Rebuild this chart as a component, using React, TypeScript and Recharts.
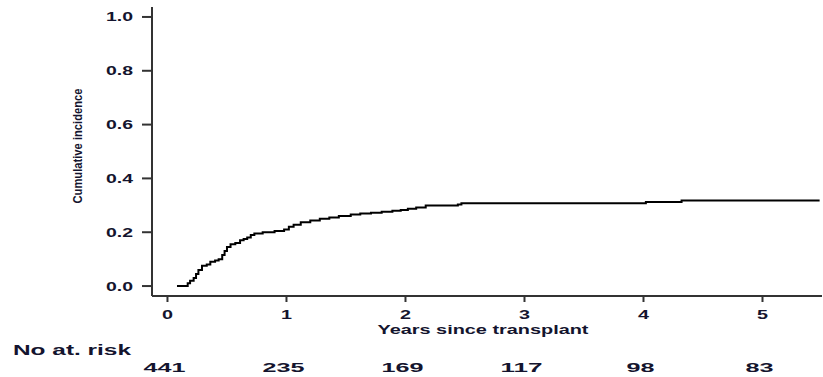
import { Line, LineChart, XAxis, YAxis } from "recharts";

// cumulative incidence step curve
const years = [
  0.08, 0.17, 0.19, 0.22, 0.24, 0.26, 0.29, 0.33, 0.36, 0.4, 0.43, 0.46, 0.48, 0.5, 0.53, 0.57,
  0.61, 0.64, 0.67, 0.7, 0.73, 0.8, 0.9, 0.98, 1.02, 1.06, 1.12, 1.2, 1.28, 1.36, 1.44, 1.54,
  1.62, 1.71, 1.8, 1.89, 1.96, 2.02, 2.09, 2.17, 2.44, 2.47, 4.02, 4.32, 5.48,
];
const incidence = [
  0, 0.01, 0.02, 0.03, 0.045, 0.06, 0.075, 0.08, 0.09, 0.095, 0.1, 0.115, 0.13, 0.145, 0.155, 0.16,
  0.17, 0.175, 0.18, 0.19, 0.195, 0.2, 0.205, 0.21, 0.22, 0.228, 0.237, 0.244, 0.25, 0.255, 0.26,
  0.266, 0.27, 0.272, 0.276, 0.28, 0.283, 0.287, 0.292, 0.299, 0.303, 0.308, 0.312, 0.318, 0.318,
];

const xTicks = [0, 1, 2, 3, 4, 5];
const yTicks = [0, 0.2, 0.4, 0.6, 0.8, 1.0];
const atRisk = ["441", "235", "169", "117", "98", "83"];

const data = years.map((t, i) => ({ t, ci: incidence[i] }));

const FONT = "'Liberation Sans', Arial, sans-serif";
const INK = "#14142e";

function YTick(props: any) {
  const { x, y, payload } = props;
  return (
    <text
      x={x}
      y={y + 4.5}
      textAnchor="end"
      fontFamily={FONT}
      fontSize={13}
      fontWeight="bold"
      fill={INK}
      textLength={27}
      lengthAdjust="spacingAndGlyphs"
    >
      {Number(payload.value).toFixed(1)}
    </text>
  );
}

function XTick(props: any) {
  const { x, payload, index } = props;
  return (
    <g>
      <text
        x={x}
        y={319}
        textAnchor="middle"
        fontFamily={FONT}
        fontSize={13}
        fontWeight="bold"
        fill={INK}
        textLength={11}
        lengthAdjust="spacingAndGlyphs"
      >
        {payload.value}
      </text>
      <text
        x={x - 3}
        y={372}
        textAnchor="middle"
        fontFamily={FONT}
        fontSize={13}
        fontWeight="bold"
        fill={INK}
        textLength={atRisk[index].length * 14}
        lengthAdjust="spacingAndGlyphs"
      >
        {atRisk[index]}
      </text>
      {index === 0 && (
        <text
          x={13}
          y={355}
          fontFamily={FONT}
          fontSize={14}
          fontWeight="bold"
          fill={INK}
          textLength={118}
          lengthAdjust="spacingAndGlyphs"
        >
          No at. risk
        </text>
      )}
    </g>
  );
}

function XLabel() {
  return (
    <text
      x={483}
      y={334}
      textAnchor="middle"
      fontFamily={FONT}
      fontSize={13}
      fontWeight="bold"
      fill={INK}
      textLength={211}
      lengthAdjust="spacingAndGlyphs"
    >
      Years since transplant
    </text>
  );
}

function YLabel() {
  return (
    <text
      x={82}
      y={146}
      textAnchor="middle"
      transform="rotate(-90 82 146)"
      fontFamily={FONT}
      fontSize={12}
      fontWeight="bold"
      fill={INK}
      textLength={115}
      lengthAdjust="spacingAndGlyphs"
    >
      Cumulative incidence
    </text>
  );
}

export default function App() {
  return (
    <div style={{ position: "absolute", left: 0, top: 0, background: "#fff" }}>
      <LineChart width={823} height={377} data={data} margin={{ top: 7, right: 1, bottom: 0, left: 0 }}>
        <XAxis
          dataKey="t"
          type="number"
          domain={[-0.13, 5.5]}
          ticks={xTicks}
          allowDataOverflow
          height={81}
          tickSize={6}
          stroke="#333"
          strokeWidth={2}
          tick={<XTick />}
          label={<XLabel />}
        />
        <YAxis
          type="number"
          domain={[-0.037, 1.037]}
          ticks={yTicks}
          allowDataOverflow
          width={152}
          tickSize={10}
          tickMargin={9}
          stroke="#333"
          strokeWidth={2}
          tick={<YTick />}
          label={<YLabel />}
        />
        <Line
          dataKey="ci"
          type="stepAfter"
          stroke="#000"
          strokeWidth={2}
          dot={false}
          isAnimationActive={false}
        />
      </LineChart>
    </div>
  );
}
